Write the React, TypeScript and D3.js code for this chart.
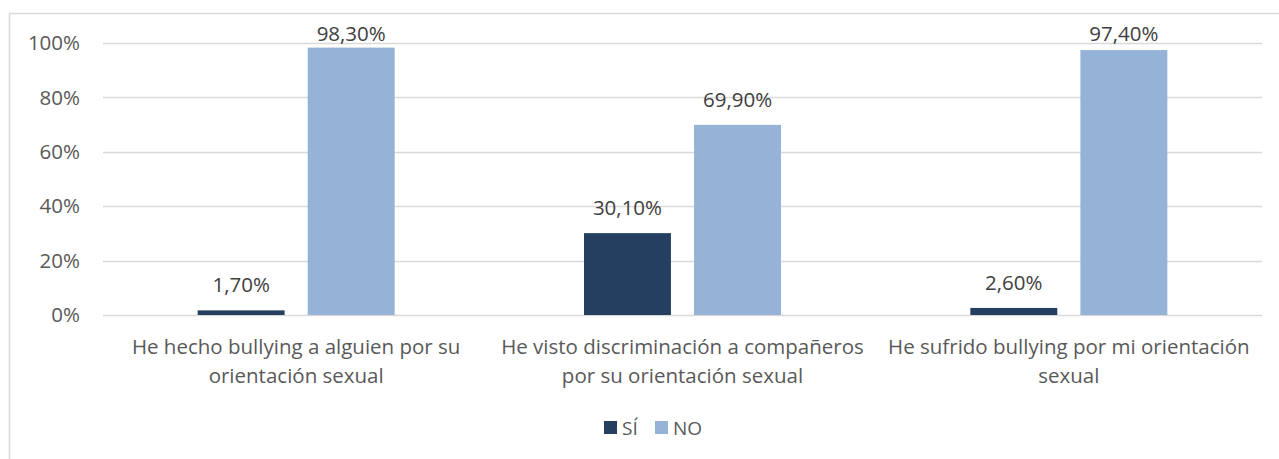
import React, {useEffect, useRef} from "react";
import * as d3 from "d3";

const categories = ["cat1", "cat2", "cat3"];
const categoryLines = [
    ["He hecho bullying a alguien por su", "orientación sexual"],
    ["He visto discriminación a compañeros", "por su orientación sexual"],
    ["He sufrido bullying por mi orientación", "sexual"],
];
const seriesNames = ["SÍ", "NO"];
const siValues = [1.7, 30.1, 2.6];
const noValues = [98.3, 69.9, 97.4];
const yTicks = [0, 20, 40, 60, 80, 100];

const colours = ["#243F60", "#95B3D7"];
const FONT = "'Open Sans', sans-serif";

const W = 1279, H = 459;
const margin = {left: 103, right: 17, top: 43, bottom: 144};

const App = () => {
    const ref = useRef<SVGSVGElement>(null);

    useEffect(() => {
        document.body.style.margin = "0";
        const svg = d3.select(ref.current);
        svg.selectAll("*").remove();

        // chart area border (only top + left visible in the crop)
        svg.append("rect")
            .attr("x", 9.5).attr("y", 13.5)
            .attr("width", W + 20).attr("height", H + 20)
            .attr("fill", "none").attr("stroke", "#D9D9D9").attr("stroke-width", 1.5);

        const x = d3.scaleBand().domain(categories).range([margin.left, W - margin.right]);
        const y = d3.scaleLinear().domain([0, 100]).range([H - margin.bottom, margin.top]);
        const inner = d3.scaleBand().domain(seriesNames)
            .range([0, x.bandwidth()]).paddingInner(0.21).paddingOuter(0.86);

        const grid = svg.append("g");
        yTicks.forEach(t => {
            grid.append("line")
                .attr("x1", margin.left).attr("x2", W - margin.right)
                .attr("y1", Math.round(y(t)) + 0.5).attr("y2", Math.round(y(t)) + 0.5)
                .attr("stroke", "#D9D9D9").attr("stroke-width", 1.3);
            grid.append("text")
                .attr("x", 80).attr("y", y(t)).attr("dy", "0.35em")
                .attr("text-anchor", "end")
                .attr("font-family", FONT).attr("font-size", 20.5)
                .attr("fill", "#595959")
                .text(`${t}%`);
        });

        const series = [siValues, noValues];
        series.forEach((vals, si) => {
            const g = svg.append("g");
            g.selectAll("rect").data(vals).join("rect")
                .attr("x", (d, i) => x(categories[i])! + inner(seriesNames[si])!)
                .attr("width", inner.bandwidth())
                .attr("y", d => y(d))
                .attr("height", d => y(0) - y(d))
                .attr("fill", colours[si]);
            // labels sit above the bar but are kept inside the chart top
            g.selectAll("text").data(vals).join("text")
                .attr("x", (d, i) => x(categories[i])! + inner(seriesNames[si])! + inner.bandwidth() / 2)
                .attr("y", d => Math.max(y(d) - 18, 41))
                .attr("text-anchor", "middle")
                .attr("font-family", FONT).attr("font-size", 20.5)
                .attr("fill", "#404040")
                .text(d => d.toFixed(2).replace(".", ",") + "%");
        });

        const labels = svg.append("g");
        categoryLines.forEach((lines, i) => {
            lines.forEach((line, j) => {
                labels.append("text")
                    .attr("x", x(categories[i])! + x.bandwidth() / 2)
                    .attr("y", 354 + j * 29)
                    .attr("text-anchor", "middle")
                    .attr("font-family", FONT).attr("font-size", 20.5)
                    .attr("fill", "#595959")
                    .text(line);
            });
        });

        const legend = svg.append("g");
        const legendX = [604, 655];
        seriesNames.forEach((name, i) => {
            legend.append("rect")
                .attr("x", legendX[i]).attr("y", 421)
                .attr("width", 13).attr("height", 13)
                .attr("fill", colours[i]);
            legend.append("text")
                .attr("x", legendX[i] + 18).attr("y", 428).attr("dy", "0.36em")
                .attr("font-family", FONT).attr("font-size", 19)
                .attr("fill", "#595959")
                .text(name);
        });
    }, []);

    return <svg ref={ref} width={W} height={H} style={{display: "block", background: "#fff"}}/>;
};

export default App;
